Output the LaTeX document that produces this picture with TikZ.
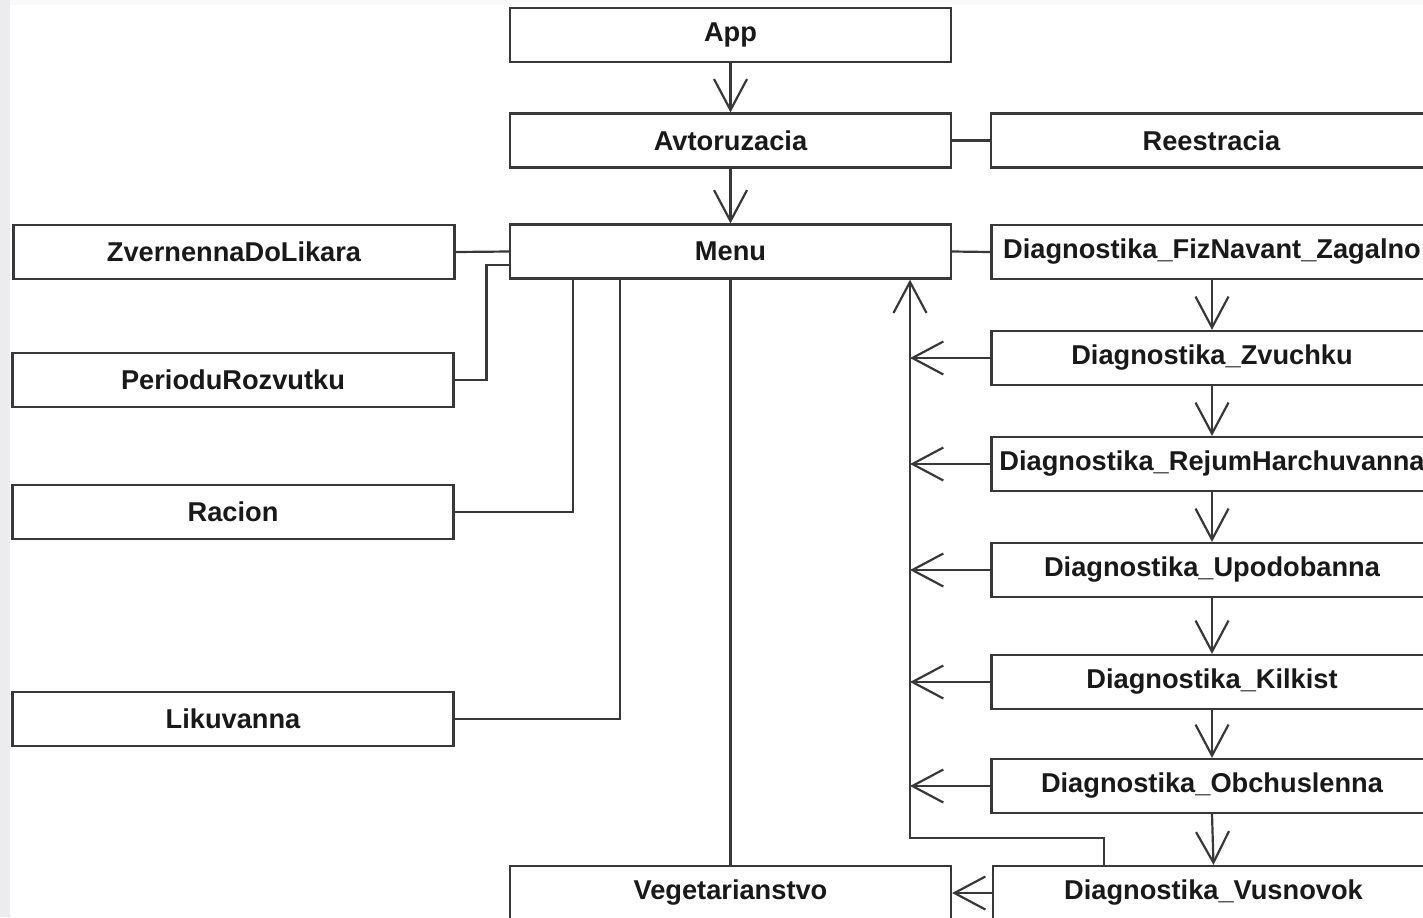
\documentclass[tikz,border=0pt]{standalone}
\usepackage{fontspec}
\setmainfont{Liberation Sans}
\usetikzlibrary{arrows.meta,calc}

\newcommand{\blokfont}{\fontsize{15.5}{18}\selectfont\bfseries}

\newcommand{\blokyDiagnostyka}{
\node[blok] (d1) at (1212,252) {Diagnostika\_FizNavant\_Zagalno};
\node[blok] (d2) at (1212,358) {Diagnostika\_Zvuchku};
\node[blok] (d3) at (1212,464) {Diagnostika\_RejumHarchuvanna};
\node[blok] (d4) at (1212,570) {Diagnostika\_Upodobanna};
\node[blok] (d5) at (1212,682) {Diagnostika\_Kilkist};
\node[blok] (d6) at (1212,786) {Diagnostika\_Obchuslenna};
\node[blok] (d7) at (1213.5,893) {Diagnostika\_Vusnovok};
}
\newcommand{\zviazkyDiagnostyka}{
\foreach \a/\b in {d1/d2,d2/d3,d3/d4,d4/d5,d5/d6,d6/d7}{
\draw[strilka] (\a.south) -- (\b.north);
}
\foreach \n in {d2,d3,d4,d5,d6}{
\draw[strilka] (\n.west) -- (\n.west -| shyna);
}
}

\tikzset{
blok/.style={draw=black!78,line width=1.25pt,fill=white,minimum width=8.82cm,minimum height=1.08cm,inner sep=0pt,font=\blokfont,text=black!90},
zviazok/.style={black!78,line width=1.25pt},
strilka/.style={zviazok,-{Straight Barb[length=0.62cm,width=0.66cm]}},
fon/.style={fill=blue!4!gray!14}
}

\begin{document}
\begin{tikzpicture}[x=0.02cm,y=-0.02cm]
    \useasboundingbox (0,0) rectangle (1423,917);
    \fill[fon] (0,0) rectangle (10,917);
    \fill[fon,opacity=0.3] (10,0) rectangle (1423,5);

    % golovna gilka
    \node[blok] (app) at (730.5,35) {App};
    \node[blok] (avt) at (730.5,140.5) {Avtoruzacia};
    \node[blok] (reestr) at (1211.5,140.5) {Reestracia};
    \node[blok] (menu) at (730.5,251.5) {Menu};
    \node[blok] (veget) at (730.5,893) {Vegetarianstvo};

    % liva kolonka
    \node[blok] (zvern) at (234,252) {ZvernennaDoLikara};
    \node[blok] (period) at (233,380) {PerioduRozvutku};
    \node[blok] (racion) at (233,512) {Racion};
    \node[blok] (likuv) at (233,719) {Likuvanna};

    \coordinate (shyna) at (910,838);
    \coordinate (vyhid) at (1104,866);

    \blokyDiagnostyka

    \draw[strilka] (app.south) -- (avt.north);
    \draw[strilka] (avt.south) -- (menu.north);
    \draw[zviazok] (avt.east) -- (reestr.west);
    \draw[zviazok] (menu.east) -- (d1.west);

    \draw[zviazok] (zvern.east) -- (menu.west);
    \draw[zviazok] (period.east) -- ++(32,0) |- ($(menu.west)+(0,13.5)$);
    \draw[zviazok] (racion.east) -| ($(menu.south west)+(64,0)$);
    \draw[zviazok] (likuv.east) -| ($(menu.south west)+(111,0)$);
    \draw[zviazok] (menu.south) -- (veget.north);

    \zviazkyDiagnostyka
    \draw[strilka] (vyhid) |- (shyna) -- (shyna |- menu.south);
    \draw[strilka] (d7.west) -- (d7.west -| veget.east);
\end{tikzpicture}
\end{document}
